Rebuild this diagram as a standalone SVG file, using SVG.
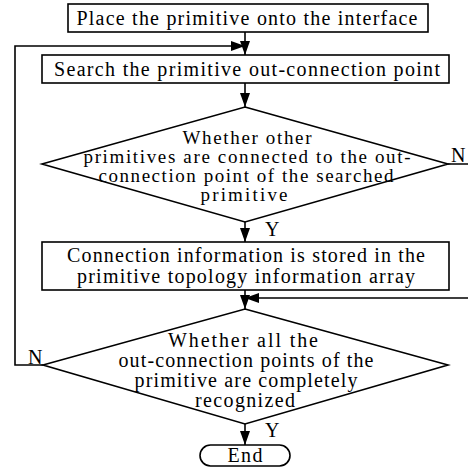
<svg xmlns="http://www.w3.org/2000/svg" width="468" height="472" viewBox="0 0 468 472">
<style>
.s{fill:#fff;stroke:#000;stroke-width:1.6}
.c{fill:none;stroke:#000;stroke-width:1.6}
text{font-family:"Liberation Serif","Times New Roman",serif;font-size:20px;fill:#000}
.m{text-anchor:middle}
.d{font-size:19px}
</style>
<defs>
<marker id="ah" viewBox="0 0 14 10" refX="14" refY="5" markerWidth="14" markerHeight="10" markerUnits="userSpaceOnUse" orient="auto">
<path d="M0,0 L14,5 L0,10 Z" fill="#000"/>
</marker>
</defs>
<g id="connectors">
<path class="c" d="M245,32 V55" marker-end="url(#ah)"/>
<path class="c" d="M43,365 H15 V46 H245" marker-end="url(#ah)"/>
<path class="c" d="M245,83 V107" marker-end="url(#ah)"/>
<path class="c" d="M245,222 V242" marker-end="url(#ah)"/>
<path class="c" d="M448,164 H472 V298 H245" marker-end="url(#ah)"/>
<path class="c" d="M245,290 V309" marker-end="url(#ah)"/>
<path class="c" d="M245,424 V445" marker-end="url(#ah)"/>
<text x="451" y="162">N</text>
<text x="265" y="236">Y</text>
<text x="28" y="364">N</text>
<text x="265" y="437">Y</text>
</g>
<g id="n1">
<rect class="s" x="68" y="4" width="360" height="28"/>
<text class="m" x="247" y="25" textLength="341">Place the primitive onto the interface</text>
</g>
<g id="n2">
<rect class="s" x="42" y="55" width="407" height="28"/>
<text class="m" x="247" y="76" textLength="386">Search the primitive out-connection point</text>
</g>
<g id="n3">
<path class="s" d="M245,107 L448,164 L245,222 L42,164 Z"/>
<text class="m d" x="247" y="144" textLength="129">Whether other</text>
<text class="m d" x="247" y="163" textLength="327">primitives are connected to the out-</text>
<text class="m d" x="246" y="182" textLength="295">connection point of the searched</text>
<text class="m d" x="244" y="201" textLength="87">primitive</text>
</g>
<g id="n4">
<rect class="s" x="42" y="242" width="407" height="48"/>
<text class="m" x="246" y="262" textLength="358">Connection information is stored in the</text>
<text class="m" x="246" y="283" textLength="338">primitive topology information array</text>
</g>
<g id="n5">
<path class="s" d="M245,309 L448,365 L245,424 L43,365 Z"/>
<text class="m" x="243" y="347" textLength="150">Whether all the</text>
<text class="m" x="246" y="367" textLength="255">out-connection points of the</text>
<text class="m" x="246" y="387" textLength="223">primitive are completely</text>
<text class="m" x="245" y="407" textLength="100">recognized</text>
</g>
<g id="n6">
<rect class="s" x="200" y="445" width="90" height="21" rx="10.5"/>
<text class="m" x="245" y="462" textLength="35">End</text>
</g>
</svg>
